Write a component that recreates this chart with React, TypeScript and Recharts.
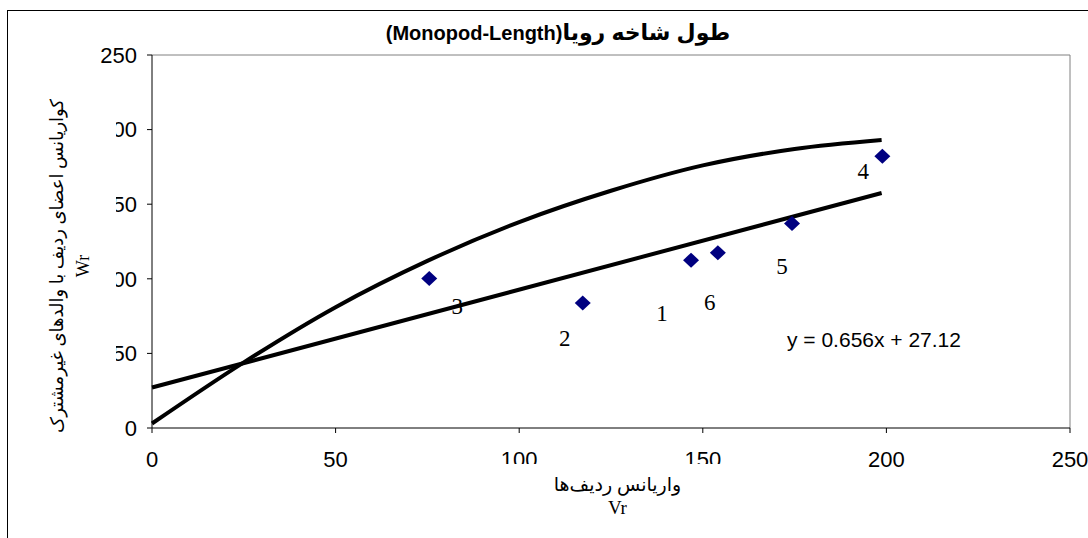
import React from 'react';
import { ScatterChart, Scatter, XAxis, YAxis, ReferenceLine } from 'recharts';

// six rows (labelled 1..6): Vr on x, Wr on y
const pointNames = ['1', '2', '3', '4', '5', '6'];
const pointX = [146.8, 117.3, 75.5, 198.9, 174.3, 154.1];
const pointY = [112.5, 83.7, 100.2, 182.2, 137.0, 117.4];

// upper curve (limit parabola)
const curveX = [0, 25, 50, 75, 100, 125, 150, 175, 198.7];
const curveY = [3, 44, 81, 112, 138, 159, 176, 187, 193];

// linear trend y = 0.656x + 27.12
const trendX = [0, 198.7];
const trendY = [27.12, 157.5];

const axisTicks = [0, 50, 100, 150, 200, 250];

const points = pointNames.map((name, i) => ({ name, x: pointX[i], y: pointY[i] }));
const curve = curveX.map((x, i) => ({ x, y: curveY[i] }));
const trend = trendX.map((x, i) => ({ x, y: trendY[i] }));

// where each number sits relative to its marker (px)
const labelOffset: Record<string, [number, number]> = {
  '1': [-29, 53],
  '2': [-18, 35],
  '3': [28, 28],
  '4': [-19, 15],
  '5': [-10, 43],
  '6': [-8, 50],
};

const sans = '"Liberation Sans", Arial, "DejaVu Sans", sans-serif';
const serif = '"Liberation Serif", "Times New Roman", "DejaVu Sans", serif';

const Diamond = (props: any) => {
  const { cx, cy, payload } = props;
  const off = labelOffset[payload.name] || [0, 0];
  return (
    <g>
      <polygon
        points={`${cx},${cy - 7.5} ${cx + 8},${cy} ${cx},${cy + 7.5} ${cx - 8},${cy}`}
        fill="#000080"
      />
      <text
        x={cx + off[0]}
        y={cy + off[1]}
        textAnchor="middle"
        dominantBaseline="central"
        fontFamily={serif}
        fontSize={23}
        fill="#000"
      >
        {payload.name}
      </text>
    </g>
  );
};

const NoDot = () => <g />;

const tickStyle = { fontFamily: sans, fontSize: 22, fill: '#000' };

export default function App() {
  return (
    <div
      style={{
        position: 'fixed',
        left: 0,
        top: 0,
        width: 1088,
        height: 538,
        overflow: 'hidden',
        background: '#fff',
      }}
    >
      <div
        style={{
          position: 'absolute',
          left: 7,
          top: 10,
          width: 1200,
          height: 700,
          border: '1px solid #000',
        }}
      />
      <div style={{ position: 'absolute', left: 0, top: 0 }}>
        <ScatterChart width={1088} height={538} margin={{ top: 55, right: 18, bottom: 80, left: 92 }}>
          <XAxis
            type="number"
            dataKey="x"
            domain={[0, 250]}
            ticks={axisTicks}
            height={30}
            axisLine={{ stroke: '#000' }}
            tickLine={{ stroke: '#000' }}
            tickSize={5}
            tickMargin={18}
            tick={tickStyle}
            interval={0}
          />
          <YAxis
            type="number"
            dataKey="y"
            domain={[0, 250]}
            ticks={axisTicks}
            width={60}
            axisLine={{ stroke: '#000' }}
            tickLine={{ stroke: '#000' }}
            tickSize={5}
            tickMargin={10}
            tick={tickStyle}
            interval={0}
          />
          <ReferenceLine y={250} stroke="#808080" />
          <ReferenceLine x={250} stroke="#808080" />
          <Scatter
            data={curve}
            line={{ stroke: '#000', strokeWidth: 4 }}
            lineJointType="monotoneX"
            shape={NoDot}
            isAnimationActive={false}
          />
          <Scatter
            data={trend}
            line={{ stroke: '#000', strokeWidth: 4 }}
            shape={NoDot}
            isAnimationActive={false}
          />
          <Scatter data={points} shape={Diamond} isAnimationActive={false} />
        </ScatterChart>
      </div>

      {/* chart title */}
      <div
        dir="rtl"
        style={{
          position: 'absolute',
          left: 308,
          top: 20,
          width: 500,
          textAlign: 'center',
          fontFamily: sans,
          fontWeight: 'bold',
          fontSize: 20,
          lineHeight: '26px',
          color: '#000',
        }}
      >
        <span style={{ fontSize: 22 }}>طول شاخه رویا</span>(Monopod-Length)
      </div>

      {/* y-axis title, white box over the tick labels */}
      <div
        dir="rtl"
        style={{
          position: 'absolute',
          left: 77 - 170,
          top: 266 - 39,
          width: 340,
          height: 78,
          background: '#fff',
          transform: 'rotate(-90deg)',
          textAlign: 'center',
          fontFamily: serif,
          fontSize: 18,
          lineHeight: '26px',
          paddingTop: 6,
          boxSizing: 'border-box',
          color: '#000',
        }}
      >
        <div>کواریانس اعضای ردیف با والدهای غیرمشترک</div>
        <div>Wr</div>
      </div>

      {/* x-axis title */}
      <div
        dir="rtl"
        style={{
          position: 'absolute',
          left: 500,
          top: 464,
          width: 235,
          height: 62,
          background: '#fff',
          textAlign: 'center',
          fontFamily: serif,
          fontSize: 19,
          lineHeight: '23px',
          paddingTop: 9,
          boxSizing: 'border-box',
          color: '#000',
        }}
      >
        <div>واریانس ردیف‌ها</div>
        <div>Vr</div>
      </div>

      {/* trend line equation */}
      <div
        style={{
          position: 'absolute',
          left: 787,
          top: 328,
          fontFamily: sans,
          fontSize: 21,
          lineHeight: '24px',
          color: '#000',
          whiteSpace: 'nowrap',
        }}
      >
        y = 0.656x + 27.12
      </div>
    </div>
  );
}
